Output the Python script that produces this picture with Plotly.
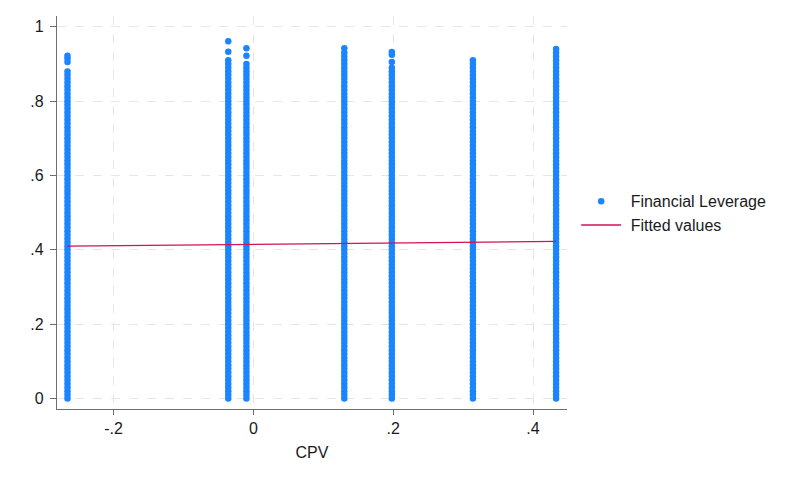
import plotly.graph_objects as go

# x positions (CPV) of the seven vertical clusters
cpv_values = [-0.266, -0.036, -0.010, 0.130, 0.198, 0.314, 0.433]

lev_a = [0.00,0.01,0.02,0.03,0.04,0.05,0.06,0.07,0.08,0.09,0.10,0.11,0.12,0.13,0.14,0.15,0.16,0.17,0.18,0.19,
         0.20,0.21,0.22,0.23,0.24,0.25,0.26,0.27,0.28,0.29,0.30,0.31,0.32,0.33,0.34,0.35,0.36,0.37,0.38,0.39,
         0.40,0.41,0.42,0.43,0.44,0.45,0.46,0.47,0.48,0.49,0.50,0.51,0.52,0.53,0.54,0.55,0.56,0.57,0.58,0.59,
         0.60,0.61,0.62,0.63,0.64,0.65,0.66,0.67,0.68,0.69,0.70,0.71,0.72,0.73,0.74,0.75,0.76,0.77,0.78,0.79,
         0.80,0.81,0.82,0.83,0.84,0.85,0.86,0.87,0.88,0.905,0.915,0.922]
lev_b = [0.00,0.01,0.02,0.03,0.04,0.05,0.06,0.07,0.08,0.09,0.10,0.11,0.12,0.13,0.14,0.15,0.16,0.17,0.18,0.19,
         0.20,0.21,0.22,0.23,0.24,0.25,0.26,0.27,0.28,0.29,0.30,0.31,0.32,0.33,0.34,0.35,0.36,0.37,0.38,0.39,
         0.40,0.41,0.42,0.43,0.44,0.45,0.46,0.47,0.48,0.49,0.50,0.51,0.52,0.53,0.54,0.55,0.56,0.57,0.58,0.59,
         0.60,0.61,0.62,0.63,0.64,0.65,0.66,0.67,0.68,0.69,0.70,0.71,0.72,0.73,0.74,0.75,0.76,0.77,0.78,0.79,
         0.80,0.81,0.82,0.83,0.84,0.85,0.86,0.87,0.88,0.89,0.90,0.91,0.933,0.961]
lev_c = [0.00,0.01,0.02,0.03,0.04,0.05,0.06,0.07,0.08,0.09,0.10,0.11,0.12,0.13,0.14,0.15,0.16,0.17,0.18,0.19,
         0.20,0.21,0.22,0.23,0.24,0.25,0.26,0.27,0.28,0.29,0.30,0.31,0.32,0.33,0.34,0.35,0.36,0.37,0.38,0.39,
         0.40,0.41,0.42,0.43,0.44,0.45,0.46,0.47,0.48,0.49,0.50,0.51,0.52,0.53,0.54,0.55,0.56,0.57,0.58,0.59,
         0.60,0.61,0.62,0.63,0.64,0.65,0.66,0.67,0.68,0.69,0.70,0.71,0.72,0.73,0.74,0.75,0.76,0.77,0.78,0.79,
         0.80,0.81,0.82,0.83,0.84,0.85,0.86,0.87,0.88,0.89,0.90,0.922,0.942]
lev_d = [0.00,0.01,0.02,0.03,0.04,0.05,0.06,0.07,0.08,0.09,0.10,0.11,0.12,0.13,0.14,0.15,0.16,0.17,0.18,0.19,
         0.20,0.21,0.22,0.23,0.24,0.25,0.26,0.27,0.28,0.29,0.30,0.31,0.32,0.33,0.34,0.35,0.36,0.37,0.38,0.39,
         0.40,0.41,0.42,0.43,0.44,0.45,0.46,0.47,0.48,0.49,0.50,0.51,0.52,0.53,0.54,0.55,0.56,0.57,0.58,0.59,
         0.60,0.61,0.62,0.63,0.64,0.65,0.66,0.67,0.68,0.69,0.70,0.71,0.72,0.73,0.74,0.75,0.76,0.77,0.78,0.79,
         0.80,0.81,0.82,0.83,0.84,0.85,0.86,0.87,0.88,0.89,0.90,0.91,0.92,0.93,0.942]
lev_e = [0.00,0.01,0.02,0.03,0.04,0.05,0.06,0.07,0.08,0.09,0.10,0.11,0.12,0.13,0.14,0.15,0.16,0.17,0.18,0.19,
         0.20,0.21,0.22,0.23,0.24,0.25,0.26,0.27,0.28,0.29,0.30,0.31,0.32,0.33,0.34,0.35,0.36,0.37,0.38,0.39,
         0.40,0.41,0.42,0.43,0.44,0.45,0.46,0.47,0.48,0.49,0.50,0.51,0.52,0.53,0.54,0.55,0.56,0.57,0.58,0.59,
         0.60,0.61,0.62,0.63,0.64,0.65,0.66,0.67,0.68,0.69,0.70,0.71,0.72,0.73,0.74,0.75,0.76,0.77,0.78,0.79,
         0.80,0.81,0.82,0.83,0.84,0.85,0.86,0.87,0.88,0.89,0.905,0.925,0.932]
lev_f = [0.00,0.01,0.02,0.03,0.04,0.05,0.06,0.07,0.08,0.09,0.10,0.11,0.12,0.13,0.14,0.15,0.16,0.17,0.18,0.19,
         0.20,0.21,0.22,0.23,0.24,0.25,0.26,0.27,0.28,0.29,0.30,0.31,0.32,0.33,0.34,0.35,0.36,0.37,0.38,0.39,
         0.40,0.41,0.42,0.43,0.44,0.45,0.46,0.47,0.48,0.49,0.50,0.51,0.52,0.53,0.54,0.55,0.56,0.57,0.58,0.59,
         0.60,0.61,0.62,0.63,0.64,0.65,0.66,0.67,0.68,0.69,0.70,0.71,0.72,0.73,0.74,0.75,0.76,0.77,0.78,0.79,
         0.80,0.81,0.82,0.83,0.84,0.85,0.86,0.87,0.88,0.89,0.90,0.91]
lev_g = [0.00,0.01,0.02,0.03,0.04,0.05,0.06,0.07,0.08,0.09,0.10,0.11,0.12,0.13,0.14,0.15,0.16,0.17,0.18,0.19,
         0.20,0.21,0.22,0.23,0.24,0.25,0.26,0.27,0.28,0.29,0.30,0.31,0.32,0.33,0.34,0.35,0.36,0.37,0.38,0.39,
         0.40,0.41,0.42,0.43,0.44,0.45,0.46,0.47,0.48,0.49,0.50,0.51,0.52,0.53,0.54,0.55,0.56,0.57,0.58,0.59,
         0.60,0.61,0.62,0.63,0.64,0.65,0.66,0.67,0.68,0.69,0.70,0.71,0.72,0.73,0.74,0.75,0.76,0.77,0.78,0.79,
         0.80,0.81,0.82,0.83,0.84,0.85,0.86,0.87,0.88,0.89,0.90,0.91,0.92,0.93,0.94]

leverage_by_cluster = [lev_a, lev_b, lev_c, lev_d, lev_e, lev_f, lev_g]

# Linear fit (Fitted values) read at the two ends of the data range
fit_x = [-0.266, 0.433]
fit_y = [0.410, 0.423]

x_tickvals = [-0.2, 0, 0.2, 0.4]
x_ticktext = ["-.2", "0", ".2", ".4"]
y_tickvals = [0, 0.2, 0.4, 0.6, 0.8, 1]
y_ticktext = ["0", ".2", ".4", ".6", ".8", "1"]

scatter_x, scatter_y = [], []
for cx, ys in zip(cpv_values, leverage_by_cluster):
    scatter_x.extend([cx] * len(ys))
    scatter_y.extend(ys)

FONT = "Liberation Sans, Arial, Helvetica, sans-serif"
BLUE = "#1a85ff"
RED = "#d41159"
AXIS = "#6e6e6e"
GRID = "#e6e6e6"
FS = 16

fig = go.Figure()
fig.add_trace(go.Scatter(
    x=scatter_x, y=scatter_y, mode="markers", name=" Financial Leverage",
    marker=dict(color=BLUE, size=6.5, line=dict(width=0)),
))
fig.add_trace(go.Scatter(
    x=fit_x, y=fit_y, mode="lines", name=" Fitted values",
    line=dict(color=RED, width=1.3),
))

fig.update_layout(
    width=793, height=463,
    margin=dict(l=49, r=234, t=8, b=62),
    paper_bgcolor="white", plot_bgcolor="white",
    font=dict(family=FONT, size=FS, color="#1a1a1a"),
    showlegend=True,
    legend=dict(
        x=1.018, xanchor="left", y=0.498, yanchor="middle",
        font=dict(family=FONT, size=FS, color="#1a1a1a"),
        bgcolor="rgba(0,0,0,0)", itemwidth=40, tracegroupgap=0,
    ),
)
fig.update_xaxes(
    range=[-0.281, 0.4486], tickvals=x_tickvals, ticktext=x_ticktext,
    showline=True, linecolor=AXIS, linewidth=1.3,
    ticks="outside", ticklen=5, tickcolor=AXIS, tickwidth=1.3,
    showgrid=True, gridcolor=GRID, gridwidth=1, griddash="dash",
    zeroline=False,
    title=dict(text="CPV", font=dict(family=FONT, size=FS), standoff=10),
    tickfont=dict(family=FONT, size=FS),
)
fig.update_yaxes(
    range=[-0.028, 1.029], tickvals=y_tickvals, ticktext=y_ticktext,
    showline=True, linecolor=AXIS, linewidth=1.3,
    ticks="outside", ticklen=6, tickcolor=AXIS, tickwidth=1.3,
    showgrid=True, gridcolor=GRID, gridwidth=1, griddash="dash",
    zeroline=False, ticklabelstandoff=3,
    tickfont=dict(family=FONT, size=FS),
)

fig.write_html("out.html")
